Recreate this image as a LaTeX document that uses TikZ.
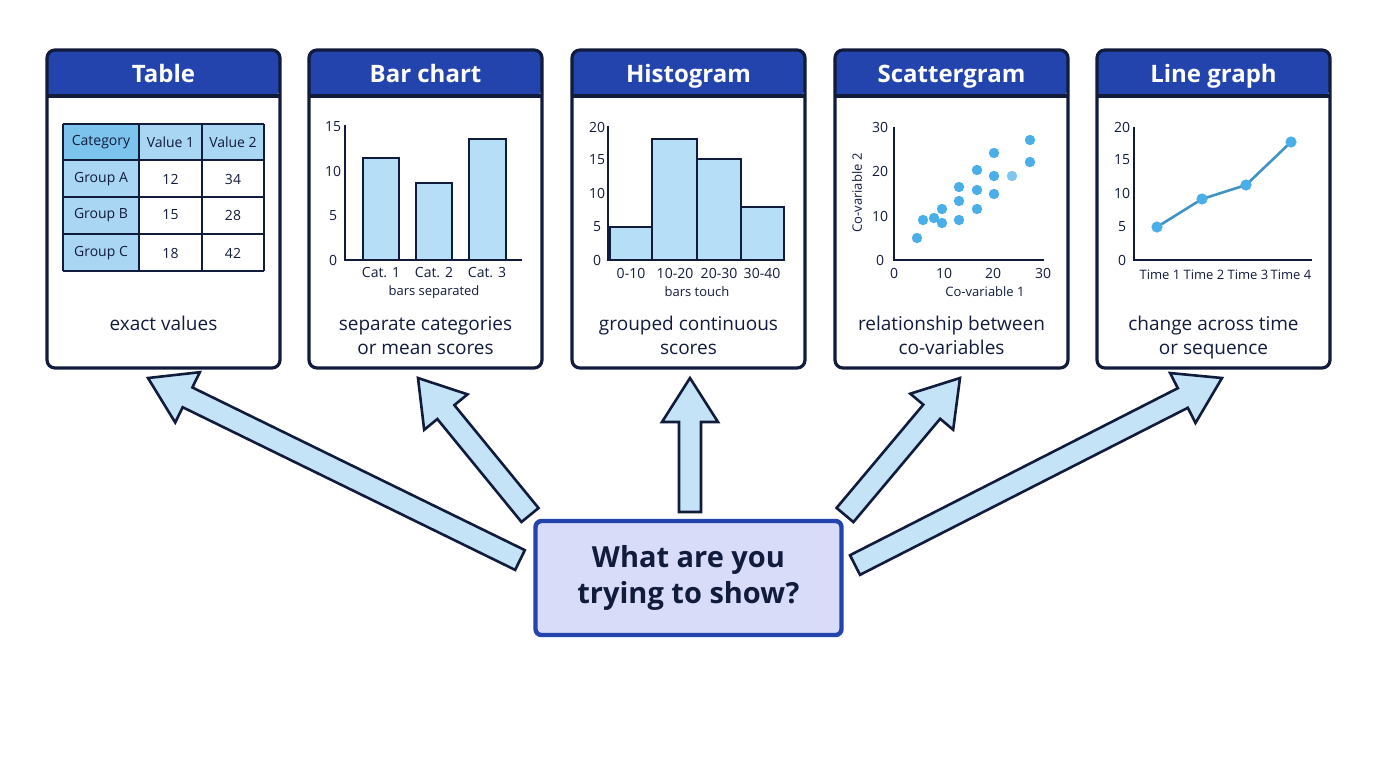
\documentclass[tikz,border=0pt]{standalone}
\usepackage{fontspec}
\setmainfont{Open Sans}
\usetikzlibrary{calc,positioning}
\definecolor{headblue}{HTML}{2444AD}
\definecolor{navy}{HTML}{111B3C}
\definecolor{barblue}{HTML}{B6DEF7}
\definecolor{cellblue}{HTML}{A9D6F3}
\definecolor{catblue}{HTML}{7CC4EE}
\definecolor{dotblue}{HTML}{4AAEE8}
\definecolor{askfill}{HTML}{D8DCF8}
\definecolor{arrowfill}{HTML}{C5E3F7}
\tikzset{
  panel/.style={draw=navy, line width=1.6pt, rounded corners=4pt},
  bar/.style={draw=navy, fill=barblue, line width=1pt},
  axis/.style={draw=navy, line width=1.2pt},
  tick/.style={font=\fontsize{7}{8}\selectfont, text=navy},
  small/.style={font=\fontsize{6.5}{8}\selectfont, text=navy},
  caption/.style={font=\fontsize{9.5}{12}\selectfont, text=navy, align=center, anchor=north},
  bigarrow/.style={draw=navy, fill=arrowfill, line width=1.3pt, line join=miter},
  dot/.style={fill=dotblue},
}
\newcommand{\blockarrow}[2]{%
  \coordinate (nc) at ($(#2)!22pt!(#1)$);
  \filldraw[bigarrow] ($(#1)!5.5pt!90:(#2)$) -- ($(nc)!5.5pt!90:(#2)$)
    -- ($(nc)!14pt!90:(#2)$) -- (#2) -- ($(nc)!14pt!-90:(#2)$)
    -- ($(nc)!5.5pt!-90:(#2)$) -- ($(#1)!5.5pt!-90:(#2)$) -- cycle;}
\begin{document}
\begin{tikzpicture}[x=0.5pt,y=-0.5pt]
\useasboundingbox (0,0) rectangle (1376,768);

% panels
\foreach \x/\t/\n in {47/Table/1,309/Bar chart/2,572/Histogram/3,835/Scattergram/4,1097/Line graph/5}{
  \fill[headblue] (\x,96) [rounded corners=4pt] -- (\x,50) -- (\x+233,50) -- (\x+233,96) [sharp corners] -- cycle;
  \draw[panel] (\x,50) rectangle (\x+233,368);
  \draw[navy, line width=1.6pt] (\x,96) -- (\x+233,96);
  \node[text=white, anchor=base, font=\fontsize{12}{14}\selectfont\bfseries] (t\n) at (\x+116.5,82) {\t};
  \coordinate (p\n) at (\x+116.5,368);
}

% table
\fill[catblue] (63,124) rectangle (139,160);
\fill[cellblue] (139,124) rectangle (264,160);
\fill[cellblue] (63,160) rectangle (139,271);
\foreach \y in {124,160,197,234,271} \draw[navy, line width=1.2pt] (63,\y) -- (264,\y);
\foreach \x in {63,139,202,264} \draw[navy, line width=1.2pt] (\x,124) -- (\x,271);
\foreach \y/\a/\b/\c in {142/Category/Value 1/Value 2,179/Group A/12/34,215/Group B/15/28,253/Group C/18/42}{
  \node[tick] at (101,\y) {\a};
  \node[tick] at (170.5,\y) {\b};
  \node[tick] at (233,\y) {\c};
}
\node[caption] (c1) at (163.5,309) {exact values};

% bar chart
\draw[bar] (363,260) rectangle (399,158);
\draw[bar] (416,260) rectangle (452,183);
\draw[bar] (469,260) rectangle (506,139);
\draw[axis] (345,125) -- (345,260) -- (522,260);
\foreach \v/\y in {15/127,10/171,5/216,0/260} \node[tick] at (333,\y) {\v};
\foreach \x/\c in {381/Cat. 1,434/Cat. 2,487/Cat. 3} \node[tick] at (\x,273) {\c};
\node[small] at (434,292) {bars separated};
\node[caption] (c2) at (425.5,309) {separate categories\\or mean scores};

% histogram
\draw[bar] (610,260) rectangle (652,227);
\draw[bar] (652,260) rectangle (697,139);
\draw[bar] (697,260) rectangle (741,159);
\draw[bar] (741,260) rectangle (784,207);
\draw[axis] (608,126) -- (608,260) -- (784,260);
\foreach \v/\y in {20/127,15/160,10/193,5/227,0/260} \node[tick] at (597,\y) {\v};
\foreach \x/\c in {631/0-10,675/10-20,719/20-30,762/30-40} \node[tick] at (\x,273) {\c};
\node[small] at (697,292) {bars touch};
\node[caption] (c3) at (688.5,309) {grouped continuous\\scores};

% scattergram
\foreach \x/\y in {917/238,923/220,934/218,942/223,942/209,959/220,959/201,959/187,977/209,977/190,977/170,994/194,994/176,994/153,1030/140,1030/162}
  \fill[dot] (\x,\y) circle (2.6pt);
\fill[dotblue!70] (1012,176) circle (2.6pt);
\draw[axis] (894,127) -- (894,260) -- (1044,260);
\foreach \v/\y in {30/127,20/171,10/216,0/260} \node[tick] at (880,\y) {\v};
\foreach \v/\x in {0/894,10/944,20/993,30/1043} \node[tick] at (\x,273) {\v};
\node[small] at (985,292) {Co-variable 1};
\node[small, rotate=90] at (857,193) {Co-variable 2};
\node[caption] (c4) at (951.5,309) {relationship between\\co-variables};

% line graph
\draw[axis] (1134,127) -- (1134,260) -- (1312,260);
\draw[dotblue!85!black, line width=1.3pt] (1157,227) -- (1202,199) -- (1246,185) -- (1291,142);
\foreach \x/\y in {1157/227,1202/199,1246/185,1291/142} \fill[dot] (\x,\y) circle (2.8pt);
\foreach \v/\y in {20/127,15/160,10/193,5/227,0/260} \node[tick] at (1122,\y) {\v};
\foreach \x/\c in {1160/Time 1,1204/Time 2,1248/Time 3,1291/Time 4} \node[small, inner sep=0pt] at (\x,275) {\c};
\node[caption] (c5) at (1213.5,309) {change across time\\or sequence};

% question
\node[draw=headblue, fill=askfill, line width=2.2pt, rounded corners=3pt,
  minimum width=153pt, minimum height=57pt, align=center, text=navy,
  font=\fontsize{14.5}{18}\selectfont\bfseries] (ask) at (688.5,578) {What are you\\trying to show?};

% arrows
\coordinate (s1) at (520,560);
\coordinate (s2) at (530,515);
\coordinate (s3) at (690,512);
\coordinate (s4) at (845,515);
\coordinate (s5) at (855,565);
\coordinate (e1) at (148,378);
\coordinate (e2) at (418,378);
\coordinate (e3) at (690,378);
\coordinate (e4) at (960,378);
\coordinate (e5) at (1222,378);
\foreach \i in {1,...,5} \blockarrow{s\i}{e\i};
\end{tikzpicture}
\end{document}
